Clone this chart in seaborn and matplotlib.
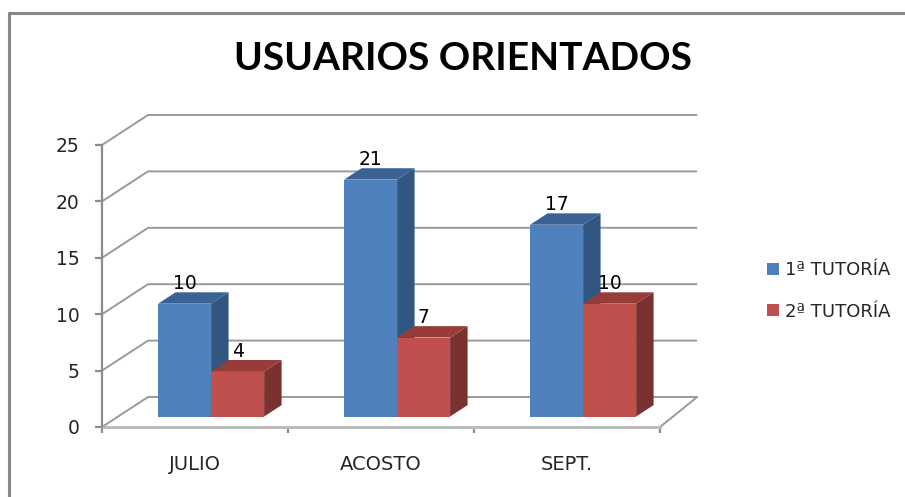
import matplotlib
matplotlib.use("Agg")
import matplotlib.pyplot as plt
from matplotlib.patches import Polygon
from matplotlib.lines import Line2D
import seaborn as sns
import pandas as pd

# ---- data ----
categories = ["JULIO", "ACOSTO", "SEPT."]
series_names = ["1ª TUTORÍA", "2ª TUTORÍA"]
tutoria1 = [10, 21, 17]
tutoria2 = [4, 7, 10]
yticks = [0, 5, 10, 15, 20, 25]
title = "USUARIOS ORIENTADOS"

df = pd.DataFrame({
    "month": categories * 2,
    "value": tutoria1 + tutoria2,
    "series": [series_names[0]] * 3 + [series_names[1]] * 3,
})

front_cols = ["#4F81BD", "#C0504D"]
top_cols = ["#3B6195", "#983C3A"]
side_cols = ["#325682", "#7A3230"]
grid_col = "#9A9A9A"

sns.set_theme(style="white")
plt.rcParams["font.family"] = ["DejaVu Sans"]

fig = plt.figure(figsize=(9.05, 4.97), dpi=100)
ax = fig.add_axes([102 / 905, 70 / 497, 558 / 905, 282 / 497])

sns.barplot(data=df, x="month", y="value", hue="series", order=categories,
            hue_order=series_names, palette=front_cols, width=0.57,
            saturation=1, ax=ax, linewidth=0)

ax.set_xlim(-0.5, 2.5)
ax.set_ylim(0, 25)

# depth vector (data units)
dx, dy = 46 / 186, 30 / 11.28
f, bd = 0.35, 0.38
wall_dx = 0.2

# back wall gridlines
for v in yticks:
    ax.plot([-0.5, -0.5 + dx, 2.5 + wall_dx], [v, v + dy, v + dy], color=grid_col,
            lw=1.4, clip_on=False, zorder=1, solid_capstyle="butt")
ax.plot([2.5, 2.5 + wall_dx], [0, dy], color=grid_col, lw=1.4, clip_on=False, zorder=1)
ax.plot([-0.5, 2.5], [0, 0], color="#BBBBBB", lw=2.2, clip_on=False, zorder=1)

bars = [p for p in ax.patches if p.get_width() > 0 and p.get_height() > 0]
color_index = {}
for p in bars:
    fc = matplotlib.colors.to_hex(p.get_facecolor())
    color_index[id(p)] = 0 if fc.lower() == front_cols[0].lower() else 1
bars.sort(key=lambda p: p.get_x())

z = 3
for p in bars:
    ci = color_index[id(p)]
    x0 = p.get_x() + f * dx
    w = p.get_width()
    h = p.get_height()
    base = f * dy
    top = base + h
    p.set_x(x0)
    p.set_y(base)
    p.set_zorder(z)
    ox, oy = bd * dx, bd * dy
    side = Polygon([(x0 + w, base), (x0 + w, top), (x0 + w + ox, top + oy),
                    (x0 + w + ox, base + oy)], closed=True,
                   facecolor=side_cols[ci], edgecolor="none", zorder=z)
    topf = Polygon([(x0, top), (x0 + w, top), (x0 + w + ox, top + oy),
                    (x0 + ox, top + oy)], closed=True,
                   facecolor=top_cols[ci], edgecolor="none", zorder=z)
    ax.add_patch(side)
    ax.add_patch(topf)
    ax.text(x0 + w / 2, top + oy - 0.1, f"{h:.0f}", ha="center", va="bottom",
            fontsize=13.5, color="black", zorder=z + 1)
    z += 2

# axes styling
for s in ["top", "right"]:
    ax.spines[s].set_visible(False)
ax.spines["bottom"].set_visible(False)
ax.spines["left"].set_color("#8C8C8C")
ax.spines["left"].set_linewidth(1.6)
ax.patch.set_alpha(0)
ax.set_xlabel("")
ax.set_ylabel("")
ax.set_yticks(yticks)
ax.set_yticklabels([str(t) for t in yticks])
ax.tick_params(axis="y", direction="out", length=5, width=1.6, color="#8C8C8C",
               labelsize=13.5, pad=11, left=True)
ax.set_xticks(range(len(categories)))
ax.set_xticklabels(categories)
ax.set_xticks([-0.5, 0.5, 1.5, 2.5], minor=True)
ax.tick_params(axis="x", which="major", length=0, labelsize=14, pad=20)
ax.tick_params(axis="x", which="minor", direction="out", length=4.5, width=1.6,
               color="#8C8C8C", bottom=True)

# legend
handles, labels = ax.get_legend_handles_labels()
ax.legend(handles, labels, loc="center left",
          bbox_to_anchor=(767 / 905, 1 - 291 / 497), bbox_transform=fig.transFigure,
          frameon=False, handlelength=0.65, handleheight=0.65, handletextpad=0.35,
          labelspacing=1.3, fontsize=13, borderpad=0, borderaxespad=0)

fig.text(463 / 905, 1 - 58 / 497, title, ha="center", va="center",
         fontsize=28, fontweight="bold", color="black",
         family=["Lato", "DejaVu Sans"])

# chart frame (top and left edges visible)
fig.add_artist(Line2D([9 / 905, 1], [1 - 13 / 497, 1 - 13 / 497],
                      transform=fig.transFigure, color="#888888", lw=2.2))
fig.add_artist(Line2D([9 / 905, 9 / 905], [0, 1 - 13 / 497],
                      transform=fig.transFigure, color="#888888", lw=2.2))

fig.savefig("out.png", dpi=100, facecolor="white")
